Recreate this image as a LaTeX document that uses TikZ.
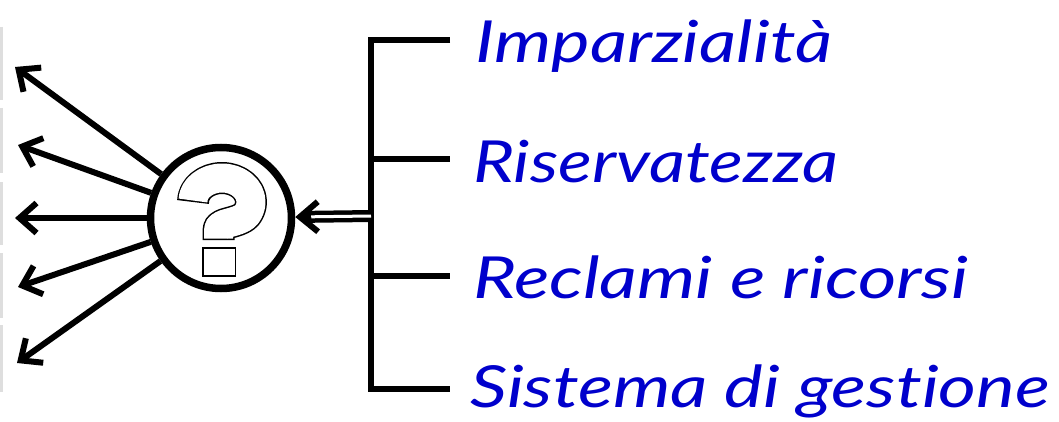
\documentclass[tikz,border=0pt]{standalone}
\usepackage{fontspec}
\setmainfont{Lato}[Ligatures={NoCommon}]
\usepackage{graphicx}
\usetikzlibrary{arrows.meta,calc}
\definecolor{txtblue}{RGB}{0,0,204}
\definecolor{barg}{RGB}{222,222,222}
\tikzset{
  arr/.style={line width=6pt, -{Straight Barb[length=17pt, width=30pt, line width=6pt]}},
  brk/.style={line width=6.5pt, line cap=butt, line join=miter},
  lbl/.style={inner sep=0pt, anchor=base west, text=txtblue, font=\fontsize{58}{60}\selectfont\itshape},
  gbar/.style={line width=3pt, barg},
  qpath/.style={line cap=butt, line join=round},
}
\begin{document}
\begin{tikzpicture}[x=1pt,y=1pt]
\useasboundingbox (0,0) rectangle (1059,421);
% grey bars at left edge
\draw[gbar] (1.5,394) -- (1.5,321);
\draw[gbar] (1.5,313) -- (1.5,248);
\draw[gbar] (1.5,239) -- (1.5,176);
\draw[gbar] (1.5,168) -- (1.5,103);
\draw[gbar] (1.5,96) -- (1.5,29);
% central circle
\node[circle, draw, line width=7.5pt, minimum size=141pt, inner sep=0pt] (q) at (221,203) {};
% question mark (outlined)
\path[qpath, draw=black, line width=32pt]
  (193,219) arc[start angle=180, end angle=-35, x radius=29, y radius=24]
  .. controls (236,197) and (218.5,199) .. (218.5,191) -- (218.5,181);
\path[qpath, draw=white, line width=29pt, shorten <=1.5pt, shorten >=1.5pt]
  (193,219) arc[start angle=180, end angle=-35, x radius=29, y radius=24]
  .. controls (236,197) and (218.5,199) .. (218.5,191) -- (218.5,181);
\draw[line width=1.6pt, fill=white] (203,145) rectangle (235.5,173);
% left arrows
\coordinate (t1) at (15,354);
\coordinate (t2) at (18,276);
\coordinate (t3) at (15,203);
\coordinate (t4) at (18,134);
\coordinate (t5) at (17,58);
\foreach \t in {t1,t2,t3,t4,t5} \draw[arr] (q) -- (\t);
% bracket
\coordinate (c1) at (371,381);
\coordinate (c2) at (371,262);
\coordinate (c3) at (371,145);
\coordinate (c4) at (371,32);
\coordinate (e1) at (450,381);
\coordinate (e2) at (450,262);
\coordinate (e3) at (450,145);
\coordinate (e4) at (450,32);
\coordinate (b) at (371,205);
\draw[brk] (e1) -- (c1) -- (c4) -- (e4);
\draw[brk] (c2) -- (e2);
\draw[brk] (c3) -- (e3);
% double arrow into circle
\draw[line width=12pt, -{Straight Barb[length=18pt, width=30pt, line width=6pt]}] (b) -- (q);
\draw[white, line width=3pt, shorten >=16pt] (b) -- (q);
% labels
\node[lbl] (l1) at (475,358) {\resizebox{357pt}{\height}{Imparzialità}};
\node[lbl] (l2) at (473,239) {\resizebox{365pt}{\height}{Riservatezza}};
\node[lbl] (l3) at (473,123) {\resizebox{495pt}{\height}{Reclami e ricorsi}};
\node[lbl] (l4) at (470,14) {\resizebox{580pt}{\height}{Sistema di gestione}};
\end{tikzpicture}
\end{document}
